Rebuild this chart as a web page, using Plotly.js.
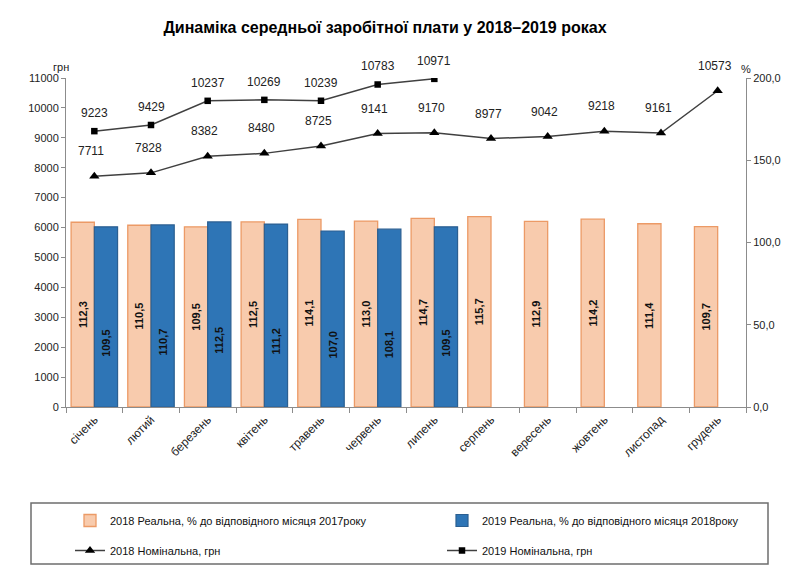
<!DOCTYPE html>
<html>
<head>
<meta charset="utf-8">
<script src="https://cdn.plot.ly/plotly-3.0.1.min.js"></script>
<style>html,body{margin:0;padding:0;background:#fff}#chart{width:800px;height:587px}</style>
</head>
<body>
<div id="chart"></div>
<script>
const months = ['січень','лютий','березень','квітень','травень','червень','липень','серпень','вересень','жовтень','листопад','грудень'];
const months2019 = ['січень','лютий','березень','квітень','травень','червень','липень'];
const real2018 = [112.3,110.5,109.5,112.5,114.1,113.0,114.7,115.7,112.9,114.2,111.4,109.7];
const real2019 = [109.5,110.7,112.5,111.2,107.0,108.1,109.5];
const nominal2018 = [7711,7828,8382,8480,8725,9141,9170,8977,9042,9218,9161,10573];
const nominal2019 = [9223,9429,10237,10269,10239,10783,10971];
const yTicksLeft = [0,1000,2000,3000,4000,5000,6000,7000,8000,9000,10000,11000];
const yTicksRight = [0,50,100,150,200];

const FONT = 'Liberation Sans, Arial, sans-serif';
const fmt = v => v.toFixed(1).replace('.', ',');

// plot area in pixels (for converting layout positions to paper units)
const PL = 66, PR = 746, PT = 78, PB = 407;
const px = x => (x - PL) / (PR - PL);
const py = y => (PB - y) / (PB - PT);

const traces = [
  {
    type: 'bar', x: months, y: real2018, yaxis: 'y2',
    name: '2018 Реальна, % до відповідного місяця 2017року',
    marker: {color: '#F8CBAD', line: {color: '#EC9A66', width: 1.3}},
    text: real2018.map(fmt), textposition: 'inside', insidetextanchor: 'middle',
    textangle: -90, textfont: {family: FONT, size: 11, color: '#111', weight: 'bold'},
    legend: 'legend', legendgroup: 'a', hoverinfo: 'skip'
  },
  {
    type: 'bar', x: months2019, y: real2019, yaxis: 'y2',
    name: '2019 Реальна, % до відповідного місяця 2018року',
    marker: {color: '#2E75B6', line: {color: '#2B5F91', width: 1.2}},
    legend: 'legend2', legendgroup: 'b', hoverinfo: 'skip'
  },
  {
    type: 'scatter', mode: 'lines+markers', x: months, y: nominal2018, yaxis: 'y',
    name: '2018 Номінальна, грн',
    line: {color: '#404040', width: 1.5},
    marker: {symbol: 'triangle-up', size: 9, color: '#000'},
    legend: 'legend', legendgroup: 'c', hoverinfo: 'skip'
  },
  {
    type: 'scatter', mode: 'lines+markers', x: months2019, y: nominal2019, yaxis: 'y',
    name: '2019 Номінальна, грн',
    line: {color: '#404040', width: 1.5},
    marker: {symbol: 'square', size: 6.5, color: '#000'},
    legend: 'legend2', legendgroup: 'd', hoverinfo: 'skip'
  }
];

const annotations = [];
real2019.forEach((v, i) => annotations.push({
  x: months2019[i], y: v / 2, xref: 'x', yref: 'y2', text: fmt(v), showarrow: false,
  textangle: -90, xshift: 11.6, yshift: -26,
  font: {family: FONT, size: 11, color: '#111', weight: 'bold'}
}));
nominal2018.forEach((v, i) => annotations.push({
  x: months[i], y: v, xref: 'x', yref: 'y', text: String(v), showarrow: false,
  yshift: 25, xshift: -3, font: {family: FONT, size: 12, color: '#222'}
}));
nominal2019.forEach((v, i) => annotations.push({
  x: months2019[i], y: v, xref: 'x', yref: 'y', text: String(v), showarrow: false,
  yshift: 18, font: {family: FONT, size: 12, color: '#222'}
}));
annotations.push({xref: 'paper', yref: 'paper', x: px(61), y: py(67), xanchor: 'center', yanchor: 'middle',
  text: 'грн', showarrow: false, font: {family: FONT, size: 11, color: '#222'}});
annotations.push({xref: 'paper', yref: 'paper', x: px(746), y: py(69), xanchor: 'center', yanchor: 'middle',
  text: '%', showarrow: false, font: {family: FONT, size: 11, color: '#222'}});

const legendCommon = {
  orientation: 'v', xref: 'paper', yref: 'paper', yanchor: 'top', xanchor: 'left',
  y: py(506), bgcolor: 'rgba(0,0,0,0)', borderwidth: 0,
  font: {family: FONT, size: 11, color: '#111'},
  traceorder: 'grouped', tracegroupgap: 11
};

const layout = {
  width: 800, height: 587,
  margin: {l: PL, r: 800 - PR, t: PT, b: 587 - PB, autoexpand: false},
  paper_bgcolor: '#fff', plot_bgcolor: '#fff',
  separators: ', ',
  showlegend: true,
  title: {
    text: '<b>Динаміка середньої заробітної плати у 2018–2019 роках</b>',
    font: {family: FONT, size: 16, color: '#000'},
    xref: 'paper', yref: 'container', x: px(385), y: 1 - 27 / 587,
    xanchor: 'center', yanchor: 'middle'
  },
  barmode: 'group', bargap: 0.18, bargroupgap: 0,
  xaxis: {
    type: 'category', categoryarray: months, range: [-0.5, 11.5],
    showline: true, linecolor: '#8c8c8c', linewidth: 1,
    ticks: 'outside', tickson: 'boundaries', ticklen: 5, tickcolor: '#8c8c8c',
    tickangle: -45, tickfont: {family: FONT, size: 12, color: '#222'},
    showgrid: false, zeroline: false, fixedrange: true, automargin: false
  },
  yaxis: {
    range: [0, 11000], tickvals: yTicksLeft, tickformat: 'd',
    showline: true, linecolor: '#8c8c8c', linewidth: 1,
    ticks: 'outside', ticklen: 4, tickcolor: '#8c8c8c',
    tickfont: {family: FONT, size: 11, color: '#222'},
    showgrid: false, zeroline: false, fixedrange: true, automargin: false
  },
  yaxis2: {
    overlaying: 'y', side: 'right', range: [0, 200], tickvals: yTicksRight, tickformat: '.1f',
    showline: true, linecolor: '#8c8c8c', linewidth: 1,
    ticks: 'outside', ticklen: 4, tickcolor: '#8c8c8c',
    tickfont: {family: FONT, size: 11, color: '#222'},
    showgrid: false, zeroline: false, fixedrange: true, automargin: false
  },
  legend: Object.assign({}, legendCommon, {x: px(70)}),
  legend2: Object.assign({}, legendCommon, {x: px(442)}),
  shapes: [{
    type: 'rect', xref: 'paper', yref: 'paper',
    x0: px(31), x1: px(768), y0: py(564), y1: py(503),
    line: {color: '#6e6e6e', width: 1.5}, fillcolor: 'rgba(0,0,0,0)'
  }],
  annotations: annotations
};

Plotly.newPlot('chart', traces, layout, {displayModeBar: false, staticPlot: true});
</script>
</body>
</html>
